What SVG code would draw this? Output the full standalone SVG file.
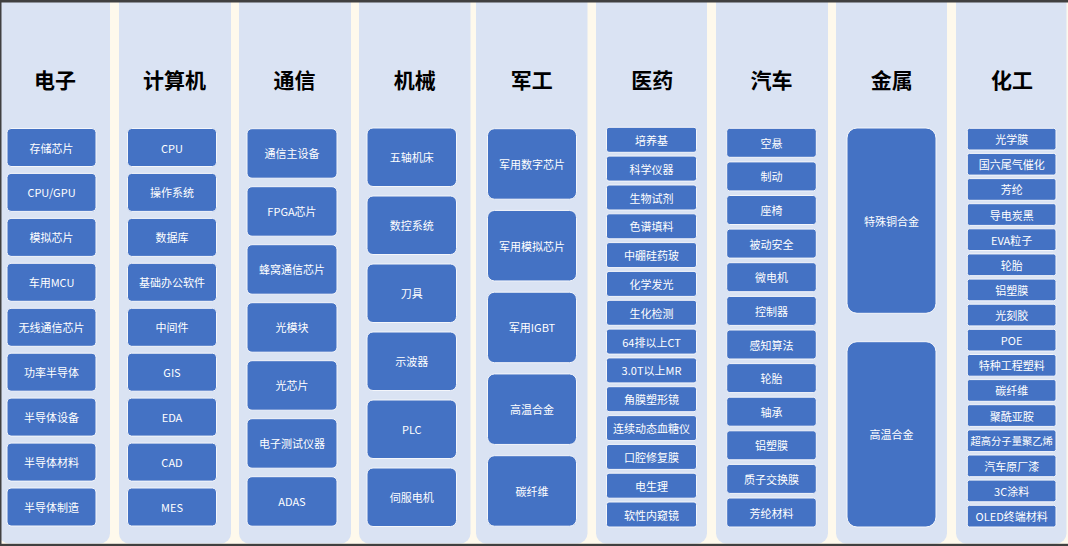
<svg xmlns="http://www.w3.org/2000/svg" width="1068" height="546" viewBox="0 0 1068 546">
<style>
.col{fill:#DAE3F3}
.b{fill:#4472C4;stroke:#F4F6FB;stroke-width:1}
.t{font-family:"Noto Sans CJK SC","Noto Sans",sans-serif;font-size:21px;font-weight:bold;fill:#000;text-anchor:middle;dominant-baseline:central}
.l{font-family:"Noto Sans CJK SC","Noto Sans",sans-serif;font-size:11px;fill:#FFFFFF;text-anchor:middle;dominant-baseline:central}
.s{font-size:10.3px}
</style>
<rect x="0" y="0" width="1068" height="546" fill="#FEF9EC"/>
<g id="col-dianzi">
<rect class="col" x="-1" y="-20" width="111" height="563.5" rx="10"/>
<text class="t" x="55" y="78.5">电子</text>
<g id="n1-1"><rect class="b" x="7" y="128.5" width="89" height="38" rx="4"/><text class="l" x="51.5" y="147.5">存储芯片</text></g>
<g id="n1-2"><rect class="b" x="7" y="173.4" width="89" height="38" rx="4"/><text class="l" x="51.5" y="192.4">CPU/GPU</text></g>
<g id="n1-3"><rect class="b" x="7" y="218.4" width="89" height="38" rx="4"/><text class="l" x="51.5" y="237.4">模拟芯片</text></g>
<g id="n1-4"><rect class="b" x="7" y="263.3" width="89" height="38" rx="4"/><text class="l" x="51.5" y="282.3">车用MCU</text></g>
<g id="n1-5"><rect class="b" x="7" y="308.3" width="89" height="38" rx="4"/><text class="l" x="51.5" y="327.3">无线通信芯片</text></g>
<g id="n1-6"><rect class="b" x="7" y="353.2" width="89" height="38" rx="4"/><text class="l" x="51.5" y="372.2">功率半导体</text></g>
<g id="n1-7"><rect class="b" x="7" y="398.1" width="89" height="38" rx="4"/><text class="l" x="51.5" y="417.1">半导体设备</text></g>
<g id="n1-8"><rect class="b" x="7" y="443.1" width="89" height="38" rx="4"/><text class="l" x="51.5" y="462.1">半导体材料</text></g>
<g id="n1-9"><rect class="b" x="7" y="488" width="89" height="38" rx="4"/><text class="l" x="51.5" y="507">半导体制造</text></g>
</g>
<g id="col-jisuanji">
<rect class="col" x="119" y="-20" width="112" height="563.5" rx="10"/>
<text class="t" x="174.5" y="78.5">计算机</text>
<g id="n2-1"><rect class="b" x="127.5" y="128.5" width="89" height="38" rx="4"/><text class="l" x="172" y="147.5">CPU</text></g>
<g id="n2-2"><rect class="b" x="127.5" y="173.4" width="89" height="38" rx="4"/><text class="l" x="172" y="192.4">操作系统</text></g>
<g id="n2-3"><rect class="b" x="127.5" y="218.4" width="89" height="38" rx="4"/><text class="l" x="172" y="237.4">数据库</text></g>
<g id="n2-4"><rect class="b" x="127.5" y="263.3" width="89" height="38" rx="4"/><text class="l" x="172" y="282.3">基础办公软件</text></g>
<g id="n2-5"><rect class="b" x="127.5" y="308.3" width="89" height="38" rx="4"/><text class="l" x="172" y="327.3">中间件</text></g>
<g id="n2-6"><rect class="b" x="127.5" y="353.2" width="89" height="38" rx="4"/><text class="l" x="172" y="372.2">GIS</text></g>
<g id="n2-7"><rect class="b" x="127.5" y="398.1" width="89" height="38" rx="4"/><text class="l" x="172" y="417.1">EDA</text></g>
<g id="n2-8"><rect class="b" x="127.5" y="443.1" width="89" height="38" rx="4"/><text class="l" x="172" y="462.1">CAD</text></g>
<g id="n2-9"><rect class="b" x="127.5" y="488" width="89" height="38" rx="4"/><text class="l" x="172" y="507">MES</text></g>
</g>
<g id="col-tongxin">
<rect class="col" x="239" y="-20" width="112" height="563.5" rx="10"/>
<text class="t" x="294.5" y="78.5">通信</text>
<g id="n3-1"><rect class="b" x="247" y="128.7" width="90" height="49.5" rx="5"/><text class="l" x="292" y="153.45">通信主设备</text></g>
<g id="n3-2"><rect class="b" x="247" y="186.7" width="90" height="49.5" rx="5"/><text class="l" x="292" y="211.45">FPGA芯片</text></g>
<g id="n3-3"><rect class="b" x="247" y="244.7" width="90" height="49.5" rx="5"/><text class="l" x="292" y="269.45">蜂窝通信芯片</text></g>
<g id="n3-4"><rect class="b" x="247" y="302.7" width="90" height="49.5" rx="5"/><text class="l" x="292" y="327.45">光模块</text></g>
<g id="n3-5"><rect class="b" x="247" y="360.7" width="90" height="49.5" rx="5"/><text class="l" x="292" y="385.45">光芯片</text></g>
<g id="n3-6"><rect class="b" x="247" y="418.7" width="90" height="49.5" rx="5"/><text class="l" x="292" y="443.45">电子测试仪器</text></g>
<g id="n3-7"><rect class="b" x="247" y="476.7" width="90" height="49.5" rx="5"/><text class="l" x="292" y="501.45">ADAS</text></g>
</g>
<g id="col-jixie">
<rect class="col" x="359" y="-20" width="111.5" height="563.5" rx="10"/>
<text class="t" x="414.8" y="78.5">机械</text>
<g id="n4-1"><rect class="b" x="367" y="128" width="89.5" height="58.5" rx="6"/><text class="l" x="411.75" y="157.25">五轴机床</text></g>
<g id="n4-2"><rect class="b" x="367" y="196" width="89.5" height="58.5" rx="6"/><text class="l" x="411.75" y="225.25">数控系统</text></g>
<g id="n4-3"><rect class="b" x="367" y="264" width="89.5" height="58.5" rx="6"/><text class="l" x="411.75" y="293.25">刀具</text></g>
<g id="n4-4"><rect class="b" x="367" y="332" width="89.5" height="58.5" rx="6"/><text class="l" x="411.75" y="361.25">示波器</text></g>
<g id="n4-5"><rect class="b" x="367" y="400" width="89.5" height="58.5" rx="6"/><text class="l" x="411.75" y="429.25">PLC</text></g>
<g id="n4-6"><rect class="b" x="367" y="468" width="89.5" height="58.5" rx="6"/><text class="l" x="411.75" y="497.25">伺服电机</text></g>
</g>
<g id="col-jungong">
<rect class="col" x="476" y="-20" width="111.5" height="563.5" rx="10"/>
<text class="t" x="531.8" y="78.5">军工</text>
<g id="n5-1"><rect class="b" x="487.5" y="128.7" width="89" height="70.5" rx="7"/><text class="l" x="532" y="163.95">军用数字芯片</text></g>
<g id="n5-2"><rect class="b" x="487.5" y="210.45" width="89" height="70.5" rx="7"/><text class="l" x="532" y="245.7">军用模拟芯片</text></g>
<g id="n5-3"><rect class="b" x="487.5" y="292.2" width="89" height="70.5" rx="7"/><text class="l" x="532" y="327.45">军用IGBT</text></g>
<g id="n5-4"><rect class="b" x="487.5" y="373.95" width="89" height="70.5" rx="7"/><text class="l" x="532" y="409.2">高温合金</text></g>
<g id="n5-5"><rect class="b" x="487.5" y="455.7" width="89" height="70.5" rx="7"/><text class="l" x="532" y="490.95">碳纤维</text></g>
</g>
<g id="col-yiyao">
<rect class="col" x="596" y="-20" width="111" height="563.5" rx="10"/>
<text class="t" x="652.2" y="78.5">医药</text>
<g id="n6-1"><rect class="b" x="606.5" y="127.3" width="90" height="25" rx="2.5"/><text class="l" x="651.5" y="139.8">培养基</text></g>
<g id="n6-2"><rect class="b" x="606.5" y="156.1" width="90" height="25" rx="2.5"/><text class="l" x="651.5" y="168.6">科学仪器</text></g>
<g id="n6-3"><rect class="b" x="606.5" y="185" width="90" height="25" rx="2.5"/><text class="l" x="651.5" y="197.5">生物试剂</text></g>
<g id="n6-4"><rect class="b" x="606.5" y="213.8" width="90" height="25" rx="2.5"/><text class="l" x="651.5" y="226.3">色谱填料</text></g>
<g id="n6-5"><rect class="b" x="606.5" y="242.6" width="90" height="25" rx="2.5"/><text class="l" x="651.5" y="255.1">中硼硅药玻</text></g>
<g id="n6-6"><rect class="b" x="606.5" y="271.4" width="90" height="25" rx="2.5"/><text class="l" x="651.5" y="283.9">化学发光</text></g>
<g id="n6-7"><rect class="b" x="606.5" y="300.3" width="90" height="25" rx="2.5"/><text class="l" x="651.5" y="312.8">生化检测</text></g>
<g id="n6-8"><rect class="b" x="606.5" y="329.1" width="90" height="25" rx="2.5"/><text class="l" x="651.5" y="341.6">64排以上CT</text></g>
<g id="n6-9"><rect class="b" x="606.5" y="357.9" width="90" height="25" rx="2.5"/><text class="l" x="651.5" y="370.4">3.0T以上MR</text></g>
<g id="n6-10"><rect class="b" x="606.5" y="386.7" width="90" height="25" rx="2.5"/><text class="l" x="651.5" y="399.2">角膜塑形镜</text></g>
<g id="n6-11"><rect class="b" x="606.5" y="415.6" width="90" height="25" rx="2.5"/><text class="l" x="651.5" y="428.1">连续动态血糖仪</text></g>
<g id="n6-12"><rect class="b" x="606.5" y="444.4" width="90" height="25" rx="2.5"/><text class="l" x="651.5" y="456.9">口腔修复膜</text></g>
<g id="n6-13"><rect class="b" x="606.5" y="473.2" width="90" height="25" rx="2.5"/><text class="l" x="651.5" y="485.7">电生理</text></g>
<g id="n6-14"><rect class="b" x="606.5" y="502" width="90" height="25" rx="2.5"/><text class="l" x="651.5" y="514.5">软性内窥镜</text></g>
</g>
<g id="col-qiche">
<rect class="col" x="716" y="-20" width="112" height="563.5" rx="10"/>
<text class="t" x="771.5" y="78.5">汽车</text>
<g id="n7-1"><rect class="b" x="726.7" y="128.3" width="89.6" height="29" rx="3"/><text class="l" x="771.5" y="142.8">空悬</text></g>
<g id="n7-2"><rect class="b" x="726.7" y="161.9" width="89.6" height="29" rx="3"/><text class="l" x="771.5" y="176.4">制动</text></g>
<g id="n7-3"><rect class="b" x="726.7" y="195.5" width="89.6" height="29" rx="3"/><text class="l" x="771.5" y="210">座椅</text></g>
<g id="n7-4"><rect class="b" x="726.7" y="229.1" width="89.6" height="29" rx="3"/><text class="l" x="771.5" y="243.6">被动安全</text></g>
<g id="n7-5"><rect class="b" x="726.7" y="262.7" width="89.6" height="29" rx="3"/><text class="l" x="771.5" y="277.2">微电机</text></g>
<g id="n7-6"><rect class="b" x="726.7" y="296.4" width="89.6" height="29" rx="3"/><text class="l" x="771.5" y="310.9">控制器</text></g>
<g id="n7-7"><rect class="b" x="726.7" y="330" width="89.6" height="29" rx="3"/><text class="l" x="771.5" y="344.5">感知算法</text></g>
<g id="n7-8"><rect class="b" x="726.7" y="363.6" width="89.6" height="29" rx="3"/><text class="l" x="771.5" y="378.1">轮胎</text></g>
<g id="n7-9"><rect class="b" x="726.7" y="397.2" width="89.6" height="29" rx="3"/><text class="l" x="771.5" y="411.7">轴承</text></g>
<g id="n7-10"><rect class="b" x="726.7" y="430.8" width="89.6" height="29" rx="3"/><text class="l" x="771.5" y="445.3">铝塑膜</text></g>
<g id="n7-11"><rect class="b" x="726.7" y="464.4" width="89.6" height="29" rx="3"/><text class="l" x="771.5" y="478.9">质子交换膜</text></g>
<g id="n7-12"><rect class="b" x="726.7" y="498" width="89.6" height="29" rx="3"/><text class="l" x="771.5" y="512.5">芳纶材料</text></g>
</g>
<g id="col-jinshu">
<rect class="col" x="836" y="-20" width="111" height="563.5" rx="10"/>
<text class="t" x="891.8" y="78.5">金属</text>
<g id="n8-1"><rect class="b" x="847" y="128" width="89" height="185.3" rx="10"/><text class="l" x="891.5" y="220.65">特殊铜合金</text></g>
<g id="n8-2"><rect class="b" x="847" y="341.7" width="89" height="185.3" rx="10"/><text class="l" x="891.5" y="434.35">高温合金</text></g>
</g>
<g id="col-huagong">
<rect class="col" x="956" y="-20" width="110.5" height="563.5" rx="10"/>
<text class="t" x="1012" y="78.5">化工</text>
<g id="n9-1"><rect class="b" x="967.3" y="128.3" width="88.7" height="21.7" rx="2.2"/><text class="l" x="1011.65" y="139.15">光学膜</text></g>
<g id="n9-2"><rect class="b" x="967.3" y="153.4" width="88.7" height="21.7" rx="2.2"/><text class="l" x="1011.65" y="164.25">国六尾气催化</text></g>
<g id="n9-3"><rect class="b" x="967.3" y="178.6" width="88.7" height="21.7" rx="2.2"/><text class="l" x="1011.65" y="189.45">芳纶</text></g>
<g id="n9-4"><rect class="b" x="967.3" y="203.7" width="88.7" height="21.7" rx="2.2"/><text class="l" x="1011.65" y="214.55">导电炭黑</text></g>
<g id="n9-5"><rect class="b" x="967.3" y="228.8" width="88.7" height="21.7" rx="2.2"/><text class="l" x="1011.65" y="239.65">EVA粒子</text></g>
<g id="n9-6"><rect class="b" x="967.3" y="253.95" width="88.7" height="21.7" rx="2.2"/><text class="l" x="1011.65" y="264.8">轮胎</text></g>
<g id="n9-7"><rect class="b" x="967.3" y="279.1" width="88.7" height="21.7" rx="2.2"/><text class="l" x="1011.65" y="289.95">铝塑膜</text></g>
<g id="n9-8"><rect class="b" x="967.3" y="304.2" width="88.7" height="21.7" rx="2.2"/><text class="l" x="1011.65" y="315.05">光刻胶</text></g>
<g id="n9-9"><rect class="b" x="967.3" y="329.3" width="88.7" height="21.7" rx="2.2"/><text class="l" x="1011.65" y="340.15">POE</text></g>
<g id="n9-10"><rect class="b" x="967.3" y="354.5" width="88.7" height="21.7" rx="2.2"/><text class="l" x="1011.65" y="365.35">特种工程塑料</text></g>
<g id="n9-11"><rect class="b" x="967.3" y="379.6" width="88.7" height="21.7" rx="2.2"/><text class="l" x="1011.65" y="390.45">碳纤维</text></g>
<g id="n9-12"><rect class="b" x="967.3" y="404.7" width="88.7" height="21.7" rx="2.2"/><text class="l" x="1011.65" y="415.55">聚酰亚胺</text></g>
<g id="n9-13"><rect class="b" x="967.3" y="429.9" width="88.7" height="21.7" rx="2.2"/><text class="l s" x="1011.65" y="440.75">超高分子量聚乙烯</text></g>
<g id="n9-14"><rect class="b" x="967.3" y="455" width="88.7" height="21.7" rx="2.2"/><text class="l" x="1011.65" y="465.85">汽车原厂漆</text></g>
<g id="n9-15"><rect class="b" x="967.3" y="480.1" width="88.7" height="21.7" rx="2.2"/><text class="l" x="1011.65" y="490.95">3C涂料</text></g>
<g id="n9-16"><rect class="b" x="967.3" y="505.3" width="88.7" height="21.7" rx="2.2"/><text class="l" x="1011.65" y="516.15">OLED终端材料</text></g>
</g>
<g id="connectors"/>
<g id="frame" fill="#404040">
<rect x="0" y="0" width="1068" height="2.5"/>
<rect x="0" y="0" width="1.5" height="546"/>
<rect x="0" y="543.8" width="1068" height="2.2"/>
</g>
</svg>
